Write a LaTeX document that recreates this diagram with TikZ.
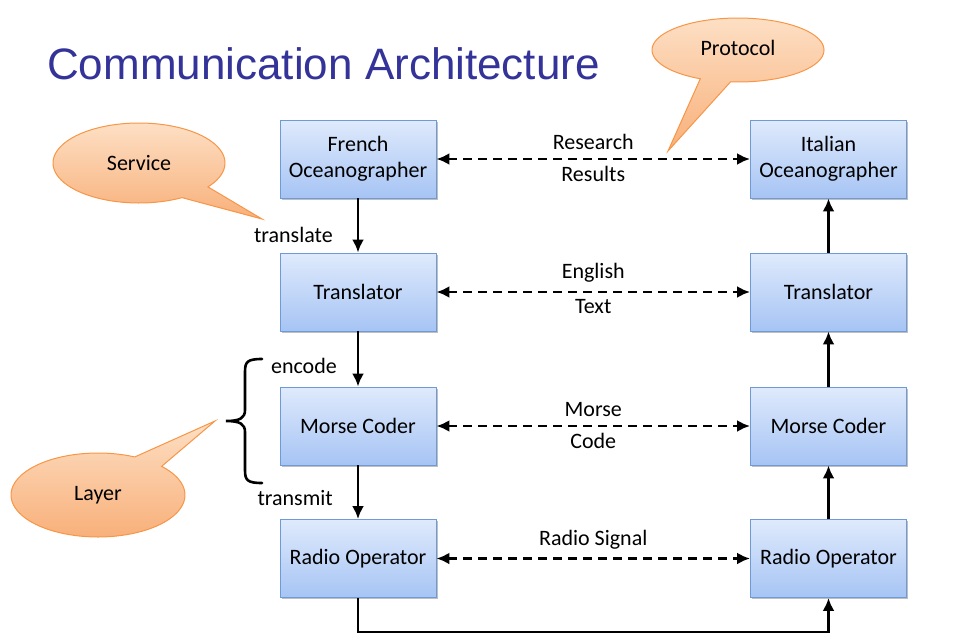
\documentclass[tikz,border=0pt]{standalone}
\usepackage{fontspec}
\setmainfont{Carlito}
\newfontfamily\titlefont{Liberation Sans}
\usetikzlibrary{arrows.meta,shadows,calc}

\definecolor{titleblue}{HTML}{333399}
\definecolor{boxtop}{HTML}{DFEAFC}
\definecolor{boxbot}{HTML}{A6C4F4}
\definecolor{boxline}{HTML}{6E9AD6}
\definecolor{calltop}{HTML}{FDDFC4}
\definecolor{callbot}{HTML}{F8B07A}
\definecolor{callline}{HTML}{F79646}

\tikzset{
  layerbox/.style={rectangle, minimum width=156pt, minimum height=78pt,
    top color=boxtop, bottom color=boxbot, draw=boxline, line width=0.9pt,
    align=center, font=\fontsize{22}{26}\selectfont,
    drop shadow={shadow xshift=1.5pt, shadow yshift=-1.5pt, opacity=0.25, fill=black}},
  flow/.style={line width=2.7pt, -{Latex[length=13pt,width=12pt]}},
  peer/.style={line width=2.7pt, dash pattern=on 9pt off 6pt,
    {Latex[length=13pt,width=12pt]}-{Latex[length=13pt,width=12pt]}},
  tag/.style={font=\fontsize{22}{26}\selectfont, inner sep=1pt},
  callout/.style={top color=calltop, bottom color=callbot, draw=callline, line width=1pt},
}

\begin{document}
\begin{tikzpicture}[x=1pt, y=-1pt]
\useasboundingbox (0,0) rectangle (973,640);

% title
\node[anchor=base west, inner sep=0pt, text=titleblue,
      font=\titlefont\fontsize{44}{50}\selectfont] (title) at (47,79) {Communication Architecture};

% speech bubbles: ellipse outline with a gap closed by a pointed tail
\path[callout] plot[domain=60:396.7, samples=90] ({139+86*cos(\x)},{163+40*sin(\x)}) -- (262,219) -- cycle;
\node[tag] (service) at (139,163) {Service};

\path[callout] plot[domain=116:455, samples=90] ({738+86*cos(\x)},{50+32*sin(\x)}) -- (668,151) -- cycle;
\node[tag] (protocol) at (738,48) {Protocol};

\path[callout] plot[domain=317:655, samples=90] ({98+87*cos(\x)},{495+42*sin(\x)}) -- (215,421) -- cycle;
\node[tag] (layer) at (98,495) {Layer};

% sending side
\node[layerbox] (lf) at (358,159) {French\\Oceanographer};
\node[layerbox] (lt) at (358,292) {Translator};
\node[layerbox] (lm) at (358,426) {Morse Coder};
\node[layerbox] (lr) at (358,558.5) {Radio Operator};

% receiving side
\node[layerbox] (rf) at (828.5,159) {Italian\\Oceanographer};
\node[layerbox] (rt) at (828.5,292) {Translator};
\node[layerbox] (rm) at (828.5,426) {Morse Coder};
\node[layerbox] (rr) at (828.5,558.5) {Radio Operator};

% services going down the stack
\draw[flow] (lf) -- (lt);
\draw[flow] (lt) -- (lm);
\draw[flow] (lm) -- (lr);
\node[tag, anchor=east] (ltrans) at (334,235) {translate};
\node[tag, anchor=east] (lenc) at (338,366) {encode};
\node[tag, anchor=east] (ltx) at (334,498) {transmit};

% physical link and the way up
\coordinate (floor) at (0,632);
\draw[flow] (lr.south) -- (lr.south |- floor) -| (rr.south);
\draw[flow] (rr) -- (rm);
\draw[flow] (rm) -- (rt);
\draw[flow] (rt) -- (rf);

% peer protocols
\draw[peer] (lf) -- node[tag, above=7pt] (p1a) {Research} node[tag, below=5pt] (p1b) {Results} (rf);
\draw[peer] (lt) -- node[tag, above=7pt] (p2a) {English} node[tag, below=5pt] (p2b) {Text} (rt);
\draw[peer] (lm) -- node[tag, above=7pt] (p3a) {Morse} node[tag, below=5pt] (p3b) {Code} (rm);
\draw[peer] (lr) -- node[tag, above=7pt] (p4a) {Radio Signal} (rr);

% brace grouping one layer
\draw[line width=2.6pt, line cap=round] (262,359) .. controls (247,359) and (245,362) .. (245,372)
  -- (245,410) .. controls (245,418) and (240,421) .. (226,421)
  .. controls (240,421) and (245,424) .. (245,432)
  -- (245,470) .. controls (245,480) and (247,483) .. (262,483);
\end{tikzpicture}
\end{document}
